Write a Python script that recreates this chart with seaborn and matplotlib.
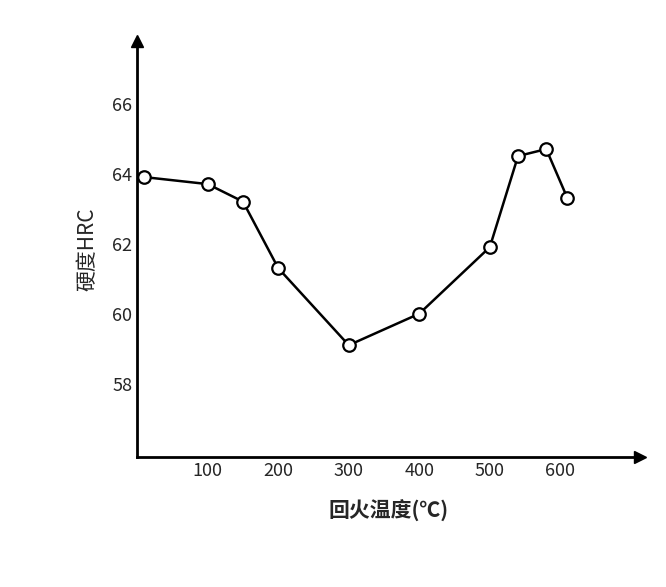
import matplotlib
matplotlib.use("Agg")
import matplotlib.pyplot as plt
import seaborn as sns
import pandas as pd

# 回火温度 vs 硬度
temps = [10, 100, 150, 200, 300, 400, 500, 540, 580, 610]
hardness = [63.9, 63.7, 63.2, 61.3, 59.1, 60.0, 61.9, 64.5, 64.7, 63.3]
xticks = [100, 200, 300, 400, 500, 600]
yticks = [58, 60, 62, 64, 66]

sns.set_style("white")
plt.rcParams['font.family'] = ['Noto Sans CJK SC', 'DejaVu Sans']

df = pd.DataFrame({"t": temps, "h": hardness})

fig = plt.figure(figsize=(6.66, 5.87), dpi=100)
ax = fig.add_axes([0.206, 0.221, 0.755, 0.71])
sns.lineplot(data=df, x="t", y="h", ax=ax, color="black", linewidth=1.8,
             marker="o", markersize=9, markerfacecolor="white",
             markeredgecolor="black", markeredgewidth=1.6)

ax.set_xlim(0, 713)
ax.set_ylim(55.9, 67.8)
ax.set_xticks(xticks)
ax.set_yticks(yticks)
ax.tick_params(labelsize=13, length=4, direction="in", width=1.2)
for s in ["top", "right"]:
    ax.spines[s].set_visible(False)
for s in ["left", "bottom"]:
    ax.spines[s].set_linewidth(2)
    ax.spines[s].set_color("black")
ax.plot(1, 0, ">k", transform=ax.transAxes, clip_on=False, markersize=8)
ax.plot(0, 1, "^k", transform=ax.transAxes, clip_on=False, markersize=8)

ax.set_xlabel("回火温度(℃)", fontsize=15, fontweight="bold", labelpad=14)
ax.set_ylabel("硬度HRC", fontsize=15, labelpad=10)

fig.savefig("out.png", dpi=100)
